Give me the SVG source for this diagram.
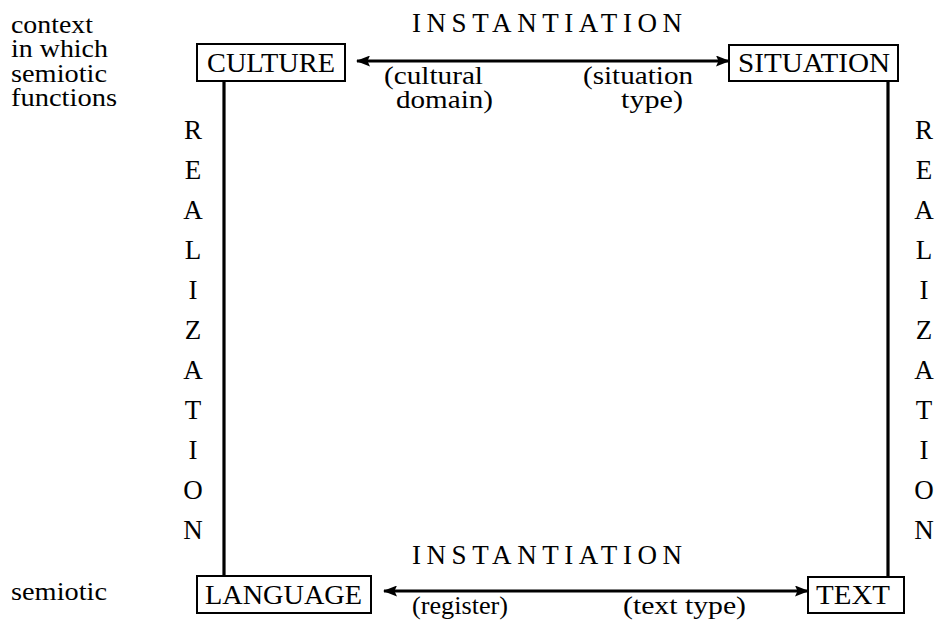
<svg xmlns="http://www.w3.org/2000/svg" width="935" height="622" viewBox="0 0 935 622" font-family="'Liberation Serif', 'DejaVu Serif', 'Times New Roman', serif">
  <defs>
    <style>
      text { font-family: 'Liberation Serif', 'DejaVu Serif', 'Times New Roman', serif; font-size: 27px; fill: #000; }
      .small { font-size: 25px; }
      .box { fill: #fff; stroke: #000; stroke-width: 2; }
      .wire { stroke: #000; stroke-width: 3.2; fill: none; }
      .mid { text-anchor: middle; }
    </style>
    <marker id="head" viewBox="0 0 14 11" refX="13" refY="5.5" markerWidth="14" markerHeight="11" markerUnits="userSpaceOnUse" orient="auto-start-reverse">
      <path d="M0,0 L14,5.5 L0,11 L2.5,5.5 Z" fill="#000"/>
    </marker>
  </defs>

  <!-- stratum labels on the left -->
  <g id="labels" class="small">
    <text class="small" x="11" y="33" textLength="82" lengthAdjust="spacingAndGlyphs">context</text>
    <text class="small" x="11" y="57" textLength="97" lengthAdjust="spacingAndGlyphs">in which</text>
    <text class="small" x="11" y="82" textLength="96" lengthAdjust="spacingAndGlyphs">semiotic</text>
    <text class="small" x="11" y="106" textLength="106" lengthAdjust="spacingAndGlyphs">functions</text>
    <text class="small" x="11" y="600" textLength="96" lengthAdjust="spacingAndGlyphs">semiotic</text>
  </g>

  <!-- connectors: realization (vertical) and instantiation (horizontal) -->
  <g id="connectors">
    <line class="wire" x1="224" y1="81" x2="224" y2="576"/>
    <line class="wire" x1="888" y1="81" x2="888" y2="577"/>
    <line class="wire" x1="357" y1="61" x2="729" y2="61" marker-start="url(#head)" marker-end="url(#head)"/>
    <line class="wire" x1="384" y1="591" x2="808" y2="591" marker-start="url(#head)" marker-end="url(#head)"/>
  </g>

  <!-- instantiation labels -->
  <g id="instantiation-top">
    <text x="412" y="32" textLength="270" lengthAdjust="spacing">INSTANTIATION</text>
    <text class="small" x="384" y="84" textLength="99" lengthAdjust="spacingAndGlyphs">(cultural</text>
    <text class="small" x="396" y="108" textLength="97" lengthAdjust="spacingAndGlyphs">domain)</text>
    <text class="small" x="583" y="84" textLength="110" lengthAdjust="spacingAndGlyphs">(situation</text>
    <text class="small" x="621" y="108" textLength="62" lengthAdjust="spacingAndGlyphs">type)</text>
  </g>
  <g id="instantiation-bottom">
    <text x="412" y="564" textLength="270" lengthAdjust="spacing">INSTANTIATION</text>
    <text class="small" x="412" y="614" textLength="96" lengthAdjust="spacingAndGlyphs">(register)</text>
    <text class="small" x="623" y="614" textLength="123" lengthAdjust="spacingAndGlyphs">(text type)</text>
  </g>

  <!-- realization labels, one letter per row -->
  <g id="realization-left" class="mid">
    <text x="193" y="139">R</text>
    <text x="193" y="179">E</text>
    <text x="193" y="219">A</text>
    <text x="193" y="259">L</text>
    <text x="193" y="299">I</text>
    <text x="193" y="339">Z</text>
    <text x="193" y="379">A</text>
    <text x="193" y="419">T</text>
    <text x="193" y="459">I</text>
    <text x="193" y="499">O</text>
    <text x="193" y="539">N</text>
  </g>
  <g id="realization-right" class="mid">
    <text x="924" y="139">R</text>
    <text x="924" y="179">E</text>
    <text x="924" y="219">A</text>
    <text x="924" y="259">L</text>
    <text x="924" y="299">I</text>
    <text x="924" y="339">Z</text>
    <text x="924" y="379">A</text>
    <text x="924" y="419">T</text>
    <text x="924" y="459">I</text>
    <text x="924" y="499">O</text>
    <text x="924" y="539">N</text>
  </g>

  <!-- nodes -->
  <g id="culture">
    <rect class="box" x="197" y="44" width="148" height="37"/>
    <text x="207" y="72" textLength="128" lengthAdjust="spacingAndGlyphs">CULTURE</text>
  </g>
  <g id="situation">
    <rect class="box" x="729" y="45" width="169" height="36"/>
    <text x="738" y="72" textLength="152" lengthAdjust="spacingAndGlyphs">SITUATION</text>
  </g>
  <g id="language">
    <rect class="box" x="197" y="576" width="174" height="37"/>
    <text x="205" y="604" textLength="157" lengthAdjust="spacingAndGlyphs">LANGUAGE</text>
  </g>
  <g id="text">
    <rect class="box" x="808" y="577" width="96" height="36"/>
    <text x="816" y="604" textLength="74" lengthAdjust="spacingAndGlyphs">TEXT</text>
  </g>
</svg>
